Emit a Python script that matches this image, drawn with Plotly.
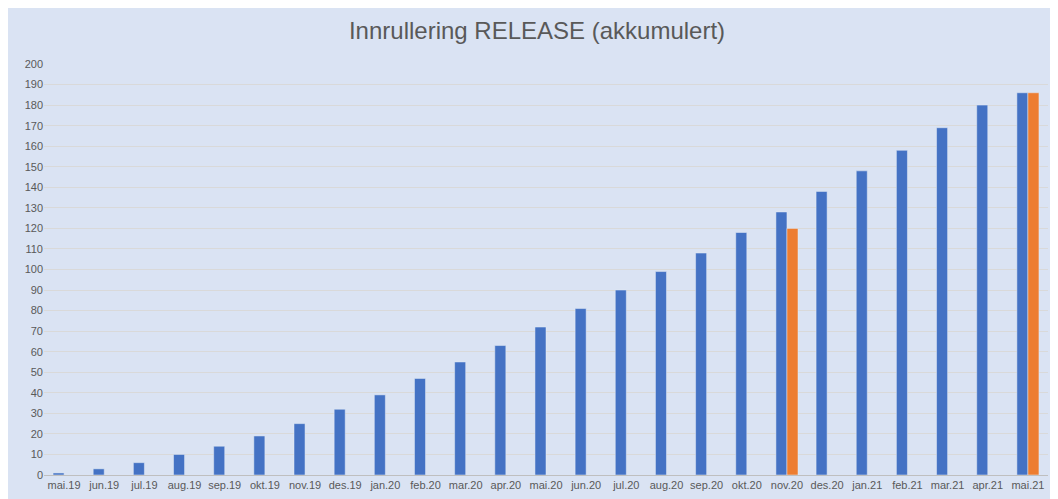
import plotly.graph_objects as go

months = ["mai.19", "jun.19", "jul.19", "aug.19", "sep.19", "okt.19", "nov.19", "des.19",
          "jan.20", "feb.20", "mar.20", "apr.20", "mai.20", "jun.20", "jul.20", "aug.20",
          "sep.20", "okt.20", "nov.20", "des.20", "jan.21", "feb.21", "mar.21", "apr.21", "mai.21"]
planned = [1, 3, 6, 10, 14, 19, 25, 32, 39, 47, 55, 63, 72, 81, 90, 99,
           108, 118, 128, 138, 148, 158, 169, 180, 186]
actual = [None] * 18 + [120] + [None] * 5 + [186]

fig = go.Figure()
fig.add_trace(go.Bar(x=months, y=planned, marker_color="#4472c4", name="Plan"))
fig.add_trace(go.Bar(x=months, y=actual, marker_color="#ed7d31", name="Faktisk"))

fig.update_layout(
    width=1058, height=499,
    title=dict(text="Innrullering RELEASE (akkumulert)", x=0.5, y=0.955, yanchor="middle",
               font=dict(family="Liberation Sans", size=24, color="#595959")),
    barmode="group", bargap=0.45, bargroupgap=0,
    showlegend=False,
    paper_bgcolor="#dae3f3", plot_bgcolor="#dae3f3",
    margin=dict(l=36, r=18, t=56, b=32),
    font=dict(family="Liberation Sans", size=11, color="#595959"),
    xaxis=dict(showgrid=False, linecolor="#bfbfbf", ticks=""),
    yaxis=dict(range=[0, 200], dtick=10, gridcolor="#d9d9d9", zeroline=False),
)

fig.write_html("out.html")
